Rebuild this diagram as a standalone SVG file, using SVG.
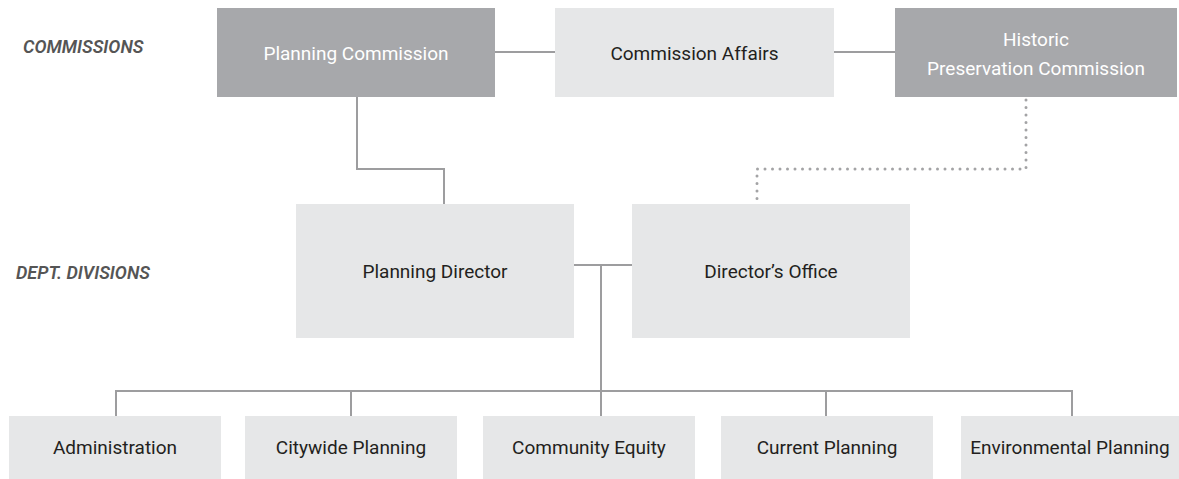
<svg xmlns="http://www.w3.org/2000/svg" width="1179" height="479" viewBox="0 0 1179 479">
<style>
.dark{fill:#a7a8ab}
.light{fill:#e6e7e8}
.t{font-family:Roboto,"Liberation Sans",sans-serif;font-size:19px;text-anchor:middle}
.tw{fill:#ffffff}
.tb{fill:#231f20}
.lab{font-family:Roboto,"Liberation Sans",sans-serif;font-size:18px;font-style:italic;font-weight:600;fill:#555555}
.ln{fill:none;stroke:#9d9d9f;stroke-width:2}
.dot{fill:none;stroke:#a3a3a5;stroke-width:3;stroke-dasharray:0 7.5;stroke-linecap:round}
</style>
<rect width="1179" height="479" fill="#ffffff"/>
<text class="lab" x="23" y="53">COMMISSIONS</text>
<text class="lab" x="16" y="279">DEPT. DIVISIONS</text>
<g id="connectors">
<line class="ln" x1="495" y1="52" x2="555" y2="52"/>
<line class="ln" x1="834" y1="52" x2="895" y2="52"/>
<polyline class="ln" points="357,97 357,169 444,169 444,204"/>
<polyline class="dot" points="1026,100 1026,169 757,169 757,202"/>
<line class="ln" x1="574" y1="265" x2="632" y2="265"/>
<line class="ln" x1="601" y1="265" x2="601" y2="416"/>
<polyline class="ln" points="116,416 116,391 1072,391 1072,416"/>
<line class="ln" x1="351" y1="391" x2="351" y2="416"/>
<line class="ln" x1="826" y1="391" x2="826" y2="416"/>
</g>
<g id="planning-commission">
<rect class="dark" x="217" y="8" width="278" height="89"/>
<text class="t tw" x="356" y="60">Planning Commission</text>
</g>
<g id="commission-affairs">
<rect class="light" x="555" y="8" width="279" height="89"/>
<text class="t tb" x="694.5" y="60">Commission Affairs</text>
</g>
<g id="historic-preservation-commission">
<rect class="dark" x="895" y="8" width="282" height="89"/>
<text class="t tw" x="1036" y="46">Historic</text>
<text class="t tw" x="1036" y="75">Preservation Commission</text>
</g>
<g id="planning-director">
<rect class="light" x="296" y="204" width="278" height="134"/>
<text class="t tb" x="435" y="278">Planning Director</text>
</g>
<g id="directors-office">
<rect class="light" x="632" y="204" width="278" height="134"/>
<text class="t tb" x="771" y="278">Director’s Office</text>
</g>
<g id="administration">
<rect class="light" x="9" y="416" width="212" height="63"/>
<text class="t tb" x="115" y="454">Administration</text>
</g>
<g id="citywide-planning">
<rect class="light" x="245" y="416" width="212" height="63"/>
<text class="t tb" x="351" y="454">Citywide Planning</text>
</g>
<g id="community-equity">
<rect class="light" x="483" y="416" width="212" height="63"/>
<text class="t tb" x="589" y="454">Community Equity</text>
</g>
<g id="current-planning">
<rect class="light" x="721" y="416" width="212" height="63"/>
<text class="t tb" x="827" y="454">Current Planning</text>
</g>
<g id="environmental-planning">
<rect class="light" x="961" y="416" width="218" height="63"/>
<text class="t tb" x="1070" y="454">Environmental Planning</text>
</g>
</svg>
